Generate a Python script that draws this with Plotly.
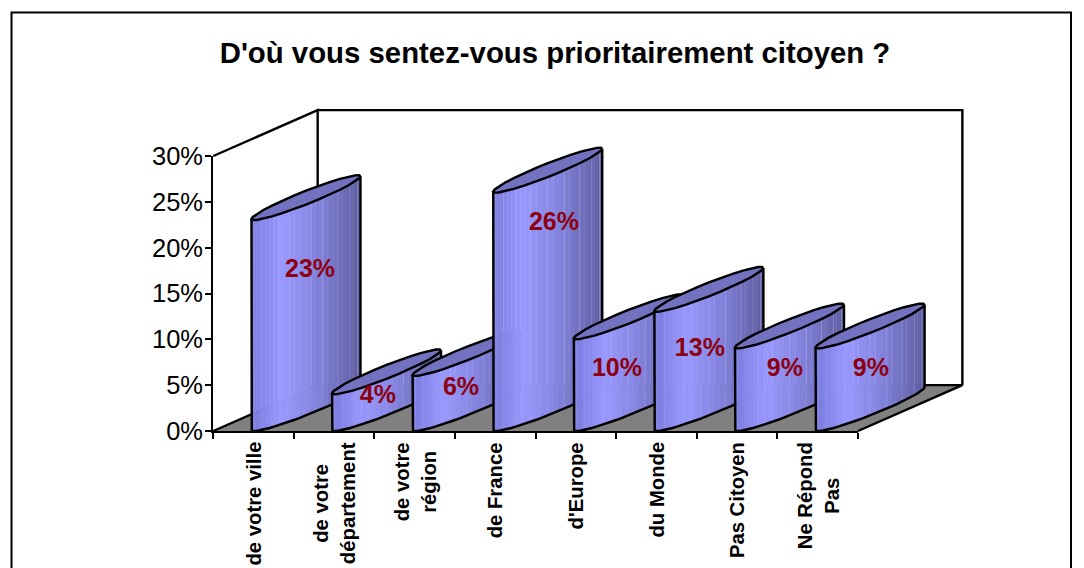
import math
import plotly.graph_objects as go

# ---- data ----
categories = ["de votre ville", "de votre<br>département", "de votre<br>région", "de France",
              "d'Europe", "du Monde", "Pas Citoyen", "Ne Répond<br>Pas"]
values = [23, 4, 6, 26, 10, 13, 9, 9]
y_ticks = [0, 5, 10, 15, 20, 25, 30]
title_text = "D'où vous sentez-vous prioritairement citoyen ?"

# ---- hand-placed data label nudges (category units, % units) ----
label_dx = [0.05, -0.107, -0.077, 0.077, -0.141, -0.112, -0.057, 0.01]
label_dy = [-5.5, -0.26, -1.39, -3.4, -3.32, -4.14, -2.32, -2.32]

# ---- layout geometry ----
W, H = 1084, 568
PL, PR, PT, PB = 213.3, 858.0, 156.0, 431.0
PX_X = (PR - PL) / 8
PX_Y = (PB - PT) / 30
DEPTH_X, DEPTH_Y = 1.295, 5.0
BAR_CX = 1.15
BAR_AX = 54.5 / PX_X
BAR_AY = 22.5 / PX_Y
PHI = math.radians(18)
N_STRIPS = 30
EDGE = 2.4
# the drawing layer shares the axes' scale but is allowed to run past them
DL, DR, DT, DB = 195.0, 985.0, 95.0, 445.0

BLACK = "#000000"
FLOOR = "#808080"
TOP = "#7272C0"
LABEL = "#8C0010"
FONT = "Liberation Sans, Arial, sans-serif"


def shade(f):
    stops = [(0.0, (122, 122, 222)), (0.28, (153, 153, 255)), (0.6, (132, 132, 222)), (1.0, (92, 92, 158))]
    for (a, ca), (b, cb) in zip(stops, stops[1:]):
        if f <= b:
            k = (f - a) / (b - a)
            c = [round(p + (q - p) * k) for p, q in zip(ca, cb)]
            return f"rgb({c[0]},{c[1]},{c[2]})"
    return "rgb(92,92,158)"


def ell(i, base, t):
    cx = i + BAR_CX
    cy = base + BAR_AY
    return cx + BAR_AX * math.cos(t), cy + BAR_AY * math.cos(t - PHI)


fig = go.Figure()
# a hidden trace keeps the visible axes alive
fig.add_trace(go.Scatter(x=[0, len(categories)], y=[y_ticks[0], y_ticks[-1]], mode="none",
                         xaxis="x", yaxis="y", hoverinfo="skip", showlegend=False))


def line(xs, ys, width=EDGE, color=BLACK):
    fig.add_trace(go.Scatter(x=xs, y=ys, mode="lines", line=dict(color=color, width=width),
                             xaxis="x2", yaxis="y2", hoverinfo="skip", showlegend=False))


def poly(xs, ys, fill, edge=None, width=0):
    fig.add_trace(go.Scatter(x=xs, y=ys, mode="lines", fill="toself", fillcolor=fill,
                             line=dict(color=edge or fill, width=width),
                             xaxis="x2", yaxis="y2", hoverinfo="skip", showlegend=False))


# floor and walls
n = len(categories)
poly([0, DEPTH_X, n + DEPTH_X, n, 0], [0, DEPTH_Y, DEPTH_Y, 0, 0], FLOOR)
top = y_ticks[-1] + DEPTH_Y
line([0, DEPTH_X, DEPTH_X], [y_ticks[-1], top, DEPTH_Y])
line([DEPTH_X, n + DEPTH_X, n + DEPTH_X], [top, top, DEPTH_Y])
line([0, DEPTH_X, n + DEPTH_X, n], [0, DEPTH_Y, DEPTH_Y, 0])

# cylinders, left to right so later ones overlap earlier ones
for i, v in enumerate(values):
    ts = [math.pi + math.pi * k / N_STRIPS for k in range(N_STRIPS + 1)]
    for k in range(N_STRIPS):
        t0, t1 = ts[k], ts[k + 1]
        x0, y0 = ell(i, 0, t0)
        x1, y1 = ell(i, 0, t1)
        x2, y2 = ell(i, v, t1)
        x3, y3 = ell(i, v, t0)
        f = ((x0 + x1) / 2 - (i + BAR_CX - BAR_AX)) / (2 * BAR_AX)
        poly([x0, x1, x2, x3, x0], [y0, y1, y2, y3, y0], shade(f),
             edge="rgba(175,175,255,0.55)" if k % 3 == 0 else None, width=0.6)
    bx, by = zip(*[ell(i, 0, t) for t in ts])
    tx, ty = zip(*[ell(i, v, t) for t in ts])
    line([tx[0]] + list(bx) + [tx[-1]], [ty[0]] + list(by) + [ty[-1]])
    ring = [ell(i, v, 2 * math.pi * k / 28) for k in range(29)]
    poly([p[0] for p in ring], [p[1] for p in ring], TOP, edge=BLACK, width=EDGE)

# data labels
fig.add_trace(go.Scatter(
    x=[i + BAR_CX + dx for i, dx in enumerate(label_dx)],
    y=[v + dy for v, dy in zip(values, label_dy)],
    mode="text", text=[f"{v}%" for v in values], textposition="middle center",
    textfont=dict(family=FONT, size=25, color=LABEL, weight="bold"),
    xaxis="x2", yaxis="y2", hoverinfo="skip", showlegend=False))

# rotated category labels
annotations = [dict(x=i + 0.5, y=1 - PB / H, xref="x", yref="paper", yanchor="top", xanchor="center",
                    yshift=-9, text=f"<b>{c}</b>", textangle=-90, showarrow=False, align="center",
                    font=dict(family=FONT, size=20.3, color=BLACK))
               for i, c in enumerate(categories)]

# outer frame runs off the bottom of the page
frame = dict(type="rect", xref="paper", yref="paper",
             x0=11.5 / W, x1=1071 / W, y0=1 - 620 / H, y1=1 - 12.5 / H,
             line=dict(color=BLACK, width=2), layer="below", fillcolor="white")

fig.update_layout(
    width=W, height=H, autosize=False,
    margin=dict(l=0, r=0, t=0, b=0, pad=0, autoexpand=False),
    paper_bgcolor="white", plot_bgcolor="rgba(0,0,0,0)",
    title=dict(text=f"<b>{title_text}</b>", x=555 / W, xref="container", xanchor="center",
               y=1 - 53 / H, yref="container", yanchor="middle",
               font=dict(family=FONT, size=29.35, color=BLACK)),
    xaxis=dict(domain=[PL / W, PR / W], range=[0, n], tickvals=list(range(n + 1)), showticklabels=False,
               ticks="outside", ticklen=6, tickwidth=1.5, tickcolor=BLACK, showline=True, linecolor=BLACK,
               linewidth=2.4, showgrid=False, zeroline=False, fixedrange=True),
    yaxis=dict(domain=[1 - PB / H, 1 - PT / H], range=[y_ticks[0], y_ticks[-1]], tickvals=y_ticks,
               ticktext=[f"{t}%" for t in y_ticks], ticks="outside", ticklen=6, tickwidth=2, tickcolor=BLACK,
               showline=True, linecolor=BLACK, linewidth=2.4, showgrid=False, zeroline=False, fixedrange=True,
               ticklabelstandoff=-3, tickfont=dict(family=FONT, size=25.5, color=BLACK)),
    xaxis2=dict(domain=[DL / W, DR / W], range=[(DL - PL) / PX_X, (DR - PL) / PX_X], visible=False,
                anchor="y2", fixedrange=True),
    yaxis2=dict(domain=[1 - DB / H, 1 - DT / H], range=[(PB - DB) / PX_Y, (PB - DT) / PX_Y], visible=False,
                anchor="x2", fixedrange=True),
    annotations=annotations, shapes=[frame], showlegend=False,
)

fig.write_html("out.html", config={"displayModeBar": False},
               post_script="document.body.style.margin='0';document.documentElement.style.overflow='hidden';")
